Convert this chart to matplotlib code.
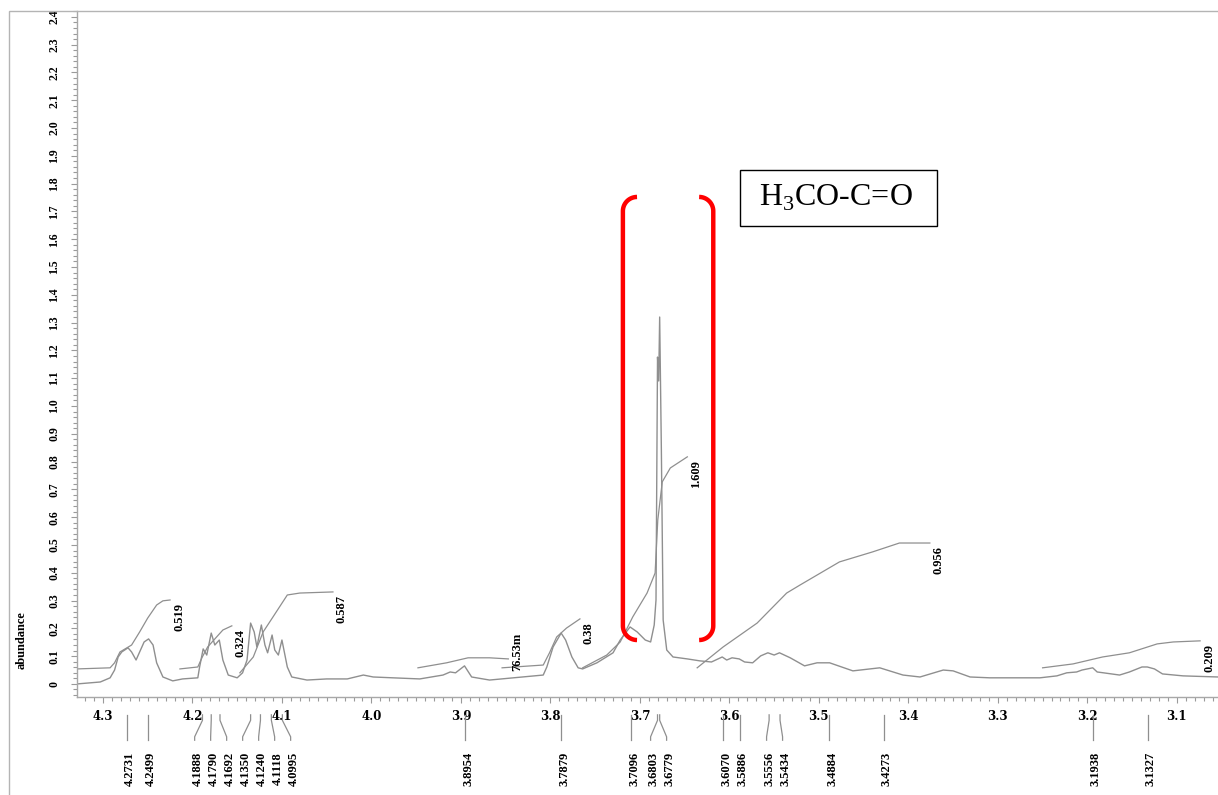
import matplotlib.pyplot as plt
import matplotlib.transforms as mtransforms
from matplotlib.patches import Rectangle
from matplotlib.ticker import MultipleLocator, FuncFormatter
import numpy as np

plt.rcParams['mathtext.fontset'] = 'custom'
plt.rcParams['mathtext.rm'] = 'Liberation Serif'

# proton spectrum, 4.33 - 3.05 ppm
shift = [4.329, 4.303, 4.292, 4.287, 4.283, 4.279, 4.272, 4.268, 4.263, 4.259,
         4.254, 4.249, 4.244, 4.240, 4.233, 4.222, 4.211, 4.194, 4.192, 4.188,
         4.184, 4.179, 4.175, 4.170, 4.166, 4.160, 4.150, 4.144, 4.139, 4.135,
         4.131, 4.128, 4.123, 4.119, 4.116, 4.111, 4.108, 4.104, 4.100, 4.094,
         4.089, 4.072, 4.050, 4.027, 4.009, 3.998, 3.976, 3.946, 3.920, 3.912,
         3.906, 3.896, 3.888, 3.868, 3.808, 3.804, 3.797, 3.788, 3.783, 3.776,
         3.769, 3.764, 3.748, 3.730, 3.722, 3.711, 3.703, 3.694, 3.688, 3.684,
         3.682, 3.6803, 3.679, 3.6779, 3.676, 3.674, 3.670, 3.663, 3.647, 3.633,
         3.620, 3.608, 3.603, 3.597, 3.589, 3.583, 3.574, 3.565, 3.557, 3.550,
         3.544, 3.532, 3.516, 3.502, 3.488, 3.462, 3.432, 3.406, 3.387, 3.361,
         3.350, 3.331, 3.309, 3.253, 3.234, 3.223, 3.212, 3.206, 3.194, 3.189,
         3.182, 3.164, 3.153, 3.139, 3.133, 3.125, 3.116, 3.093, 3.054]
signal = [0.000, 0.007, 0.022, 0.050, 0.097, 0.115, 0.130, 0.115, 0.086, 0.115,
          0.151, 0.162, 0.140, 0.076, 0.025, 0.011, 0.018, 0.022, 0.061, 0.126,
          0.104, 0.183, 0.140, 0.158, 0.086, 0.032, 0.022, 0.040, 0.086, 0.219,
          0.187, 0.133, 0.212, 0.140, 0.112, 0.176, 0.122, 0.104, 0.158, 0.061,
          0.025, 0.014, 0.018, 0.018, 0.032, 0.025, 0.022, 0.018, 0.032, 0.043,
          0.040, 0.065, 0.025, 0.014, 0.032, 0.061, 0.133, 0.183, 0.158, 0.097,
          0.058, 0.054, 0.076, 0.112, 0.158, 0.205, 0.187, 0.158, 0.151, 0.212,
          0.302, 1.176, 1.090, 1.320, 0.840, 0.230, 0.122, 0.097, 0.090, 0.083,
          0.079, 0.097, 0.086, 0.094, 0.090, 0.079, 0.076, 0.101, 0.112, 0.104,
          0.112, 0.094, 0.065, 0.076, 0.076, 0.047, 0.058, 0.032, 0.025, 0.050,
          0.047, 0.025, 0.022, 0.022, 0.029, 0.040, 0.043, 0.050, 0.058, 0.043,
          0.040, 0.032, 0.043, 0.061, 0.061, 0.054, 0.036, 0.029, 0.025]

# picked peaks
peaks = [4.2731, 4.2499, 4.1888, 4.1790, 4.1692, 4.1350, 4.1240, 4.1118, 4.0995,
         3.8954, 3.7879, 3.7096, 3.6803, 3.6779, 3.6070, 3.5886, 3.5556, 3.5434,
         3.4884, 3.4273, 3.1938, 3.1327]

# integral traces
int1_x = [4.329, 4.292, 4.287, 4.281, 4.268, 4.259, 4.250, 4.240, 4.233, 4.225]
int1_y = [0.054, 0.058, 0.076, 0.115, 0.140, 0.187, 0.237, 0.284, 0.299, 0.302]
int2_x = [4.214, 4.194, 4.189, 4.183, 4.173, 4.166, 4.156]
int2_y = [0.054, 0.061, 0.097, 0.133, 0.169, 0.194, 0.209]
int3_x = [4.147, 4.132, 4.121, 4.110, 4.094, 4.080, 4.043]
int3_y = [0.040, 0.097, 0.187, 0.241, 0.320, 0.327, 0.331]
int4_x = [3.948, 3.916, 3.892, 3.868, 3.847]
int4_y = [0.058, 0.076, 0.094, 0.094, 0.090]
int5_x = [3.854, 3.808, 3.801, 3.793, 3.782, 3.767]
int5_y = [0.058, 0.068, 0.112, 0.169, 0.201, 0.234]
int6_x = [3.764, 3.737, 3.722, 3.708, 3.692, 3.683, 3.680, 3.675, 3.666, 3.647]
int6_y = [0.058, 0.104, 0.151, 0.241, 0.327, 0.399, 0.590, 0.727, 0.777, 0.817]
int7_x = [3.636, 3.607, 3.569, 3.536, 3.521, 3.477, 3.440, 3.410, 3.376]
int7_y = [0.058, 0.133, 0.219, 0.327, 0.356, 0.439, 0.475, 0.507, 0.507]
int8_x = [3.250, 3.216, 3.183, 3.153, 3.122, 3.104, 3.074]
int8_y = [0.058, 0.072, 0.097, 0.112, 0.144, 0.151, 0.155]
int_text = ['0.519', '0.324', '0.587', '76.53m', '0.38', '1.609', '0.956', '0.209']

GRAY = '#8f8f8f'
LBL = dict(family='Liberation Serif', weight='bold', size=9)


def spread(pos, gap):
    # groups crowded peak labels and spaces them evenly about their centre
    groups = [[p] for p in pos]
    changed = True
    while changed:
        changed = False
        for i in range(len(groups) - 1):
            a, b = groups[i], groups[i + 1]
            last_a = np.mean(a) - gap * (len(a) - 1) / 2
            first_b = np.mean(b) + gap * (len(b) - 1) / 2
            if last_a - first_b < gap:
                groups[i] = a + b
                del groups[i + 1]
                changed = True
                break
    out = []
    for g in groups:
        c = np.mean(g)
        out += [c + gap * ((len(g) - 1) / 2 - k) for k in range(len(g))]
    return out


fig = plt.figure(figsize=(12.18, 7.95), dpi=100)
ax = fig.add_axes([77 / 1218, 98 / 795, 1141 / 1218, 686 / 795])

ax.plot(shift, signal, color=GRAY, lw=1.0)

ints = [(int1_x, int1_y), (int2_x, int2_y), (int3_x, int3_y), (int4_x, int4_y),
        (int5_x, int5_y), (int6_x, int6_y), (int7_x, int7_y), (int8_x, int8_y)]
for (xs, ys), t in zip(ints, int_text):
    ax.plot(xs, ys, color=GRAY, lw=0.9)
    dy = -3 if t != '76.53m' else 26
    ax.annotate(t, (xs[-1], ys[-1]), xytext=(9, dy), textcoords='offset pixels',
                rotation=90, ha='center', va='top', annotation_clip=False, **LBL)

ax.set_xlim(4.329, 3.054)
ax.set_ylim(-0.047, 2.421)

# peak markers below the axis
blend = mtransforms.blended_transform_factory(ax.transData, ax.transAxes)
txt_tr = mtransforms.offset_copy(blend, fig=fig, x=3, y=0, units='dots')
lab = spread(peaks, 16 / 895)
for p, q in zip(peaks, lab):
    ax.plot([p, p, q, q], [-0.026, -0.034, -0.058, -0.063], color=GRAY, lw=0.9,
            transform=blend, clip_on=False)
    ax.text(q, -0.080, f'{p:.4f}', transform=txt_tr, rotation=90,
            ha='center', va='top', **LBL)

# bracket round the methyl ester singlet
br_top, br_bot = 1.752, 0.158
rx, ry = 0.0158, 0.051
t = np.linspace(np.pi / 2, np.pi, 20)
for edge, side in [(3.719, 1), (3.618, -1)]:
    bx = np.concatenate([edge - side * rx * (1 + np.cos(t)),
                         edge - side * rx * (1 + np.cos(t[::-1]))])
    by = np.concatenate([br_top - ry + ry * np.sin(t),
                         br_bot + ry - ry * np.sin(t[::-1])])
    ax.plot(bx, by, color='red', lw=3.2, solid_capstyle='butt', clip_on=False)

ax.add_patch(Rectangle((0.581, 0.6866), 0.1727, 0.0816, transform=ax.transAxes,
                       fill=False, ec='black', lw=1.0, clip_on=False))
ax.text(0.6655, 0.7274, r'H$_{\mathrm{3}}$CO-C=O', transform=ax.transAxes,
        ha='center', va='center', family='Liberation Serif', size=23)

# axes styling
for s in ['top', 'right']:
    ax.spines[s].set_visible(False)
for s in ['left', 'bottom']:
    ax.spines[s].set_color('#a8a8a8')
    ax.spines[s].set_linewidth(1.0)

ax.xaxis.set_major_locator(MultipleLocator(0.1))
ax.xaxis.set_minor_locator(MultipleLocator(0.01))
ax.yaxis.set_major_locator(MultipleLocator(0.1))
ax.yaxis.set_minor_locator(MultipleLocator(0.02))
ax.xaxis.set_major_formatter(FuncFormatter(lambda v, p: f'{v:.1f}'))
ax.yaxis.set_major_formatter(
    FuncFormatter(lambda v, p: '0' if abs(v) < 1e-9 else f'{v:.1f}'))
ax.tick_params(which='both', direction='out', color='#9a9a9a', width=0.8)
ax.tick_params(which='major', length=4)
ax.tick_params(which='minor', length=3)
ax.tick_params(axis='x', pad=5)
ax.tick_params(axis='y', pad=8, labelrotation=90)
for lbl in ax.get_xticklabels():
    lbl.set_fontfamily('DejaVu Serif')
    lbl.set_fontweight('bold')
    lbl.set_fontsize(8.5)
for lbl in ax.get_yticklabels():
    lbl.set_fontfamily('Liberation Serif')
    lbl.set_fontweight('bold')
    lbl.set_fontsize(8.5)
    lbl.set_va('center')

ax.set_ylabel('abundance', **LBL)
ax.yaxis.set_label_coords(-0.043, 0.083)

# outer frame
fig.patches.append(Rectangle((9 / 1218, -0.1), 1.2, 0.1 + 784 / 795,
                             transform=fig.transFigure, fill=False,
                             ec='#b4b4b4', lw=1.0))

fig.savefig('out.png', dpi=100)
